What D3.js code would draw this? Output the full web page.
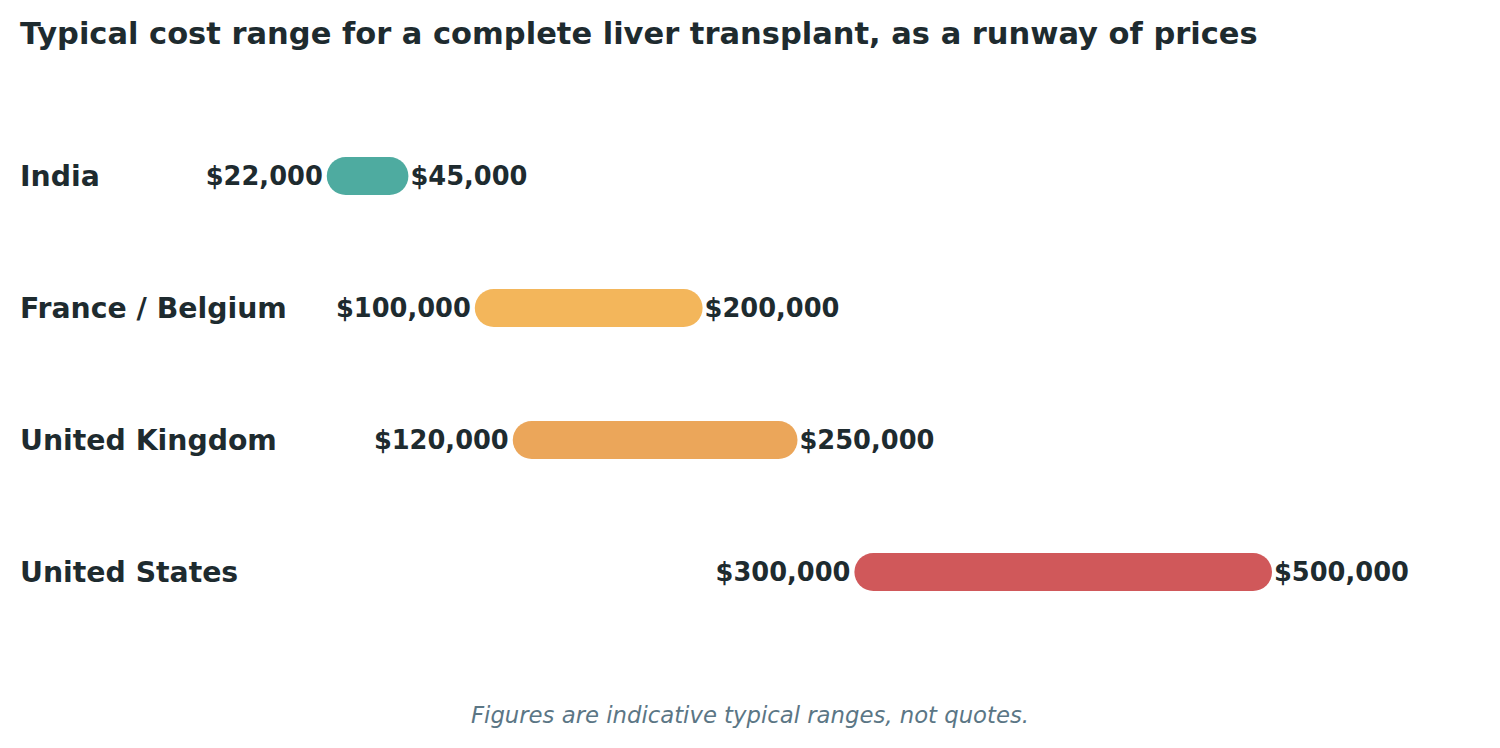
<!DOCTYPE html>
<html>
<head>
    <title></title>
    <script src="https://d3js.org/d3.v7.min.js"></script>
    <style>
        body { margin: 0; background: #fff; }
        text { font-family: "DejaVu Sans", sans-serif; }
    </style>
</head>
<body>

    <svg id="chart" width="1500" height="748"></svg>

    <script>

    var countries = ["India", "France / Belgium", "United Kingdom", "United States"];
    var lows      = [22000, 100000, 120000, 300000];
    var highs     = [45000, 200000, 250000, 500000];
    var colors    = ["#4eaba0", "#f3b65b", "#eba65a", "#d0585a"];

    var ink = "#1e2b2f";
    var fmt = d3.format("$,");

    var xSc = d3.scaleLinear().domain([0, 500000]).range([304, 1253]);
    var ySc = d3.scalePoint().domain(countries).range([176, 572]);

    var barH = 38;

    let svg = d3.select("#chart");

    svg.append("text")
        .attr("x", 20).attr("y", 44)
        .attr("font-size", 30.5).attr("font-weight", "bold")
        .attr("fill", ink)
        .text("Typical cost range for a complete liver transplant, as a runway of prices");

    var rows = svg.append("g").selectAll("g")
        .data(countries).enter().append("g")
        .attr("transform", d => "translate(0," + ySc(d) + ")");

    // country names
    rows.append("text")
        .attr("x", 20).attr("dy", "0.35em")
        .attr("font-size", 28.3).attr("font-weight", "bold")
        .attr("fill", ink)
        .text(d => d);

    // the runway: a thick line with round caps
    rows.append("line")
        .attr("x1", (d, i) => xSc(lows[i]))
        .attr("x2", (d, i) => xSc(highs[i]))
        .attr("stroke", (d, i) => colors[i])
        .attr("stroke-width", barH)
        .attr("stroke-linecap", "round");

    rows.append("text")
        .attr("x", (d, i) => xSc(lows[i]) - barH / 2 - 4)
        .attr("dy", "0.35em").attr("text-anchor", "end")
        .attr("font-size", 25.7).attr("font-weight", "bold")
        .attr("fill", ink)
        .text((d, i) => fmt(lows[i]));

    rows.append("text")
        .attr("x", (d, i) => xSc(highs[i]) + barH / 2 + 2)
        .attr("dy", "0.35em")
        .attr("font-size", 25.7).attr("font-weight", "bold")
        .attr("fill", ink)
        .text((d, i) => fmt(highs[i]));

    svg.append("text")
        .attr("x", 750).attr("y", 723)
        .attr("text-anchor", "middle")
        .attr("font-size", 22.75).attr("font-style", "italic")
        .attr("fill", "#5b7685")
        .text("Figures are indicative typical ranges, not quotes.");

    </script>

</body></html>
